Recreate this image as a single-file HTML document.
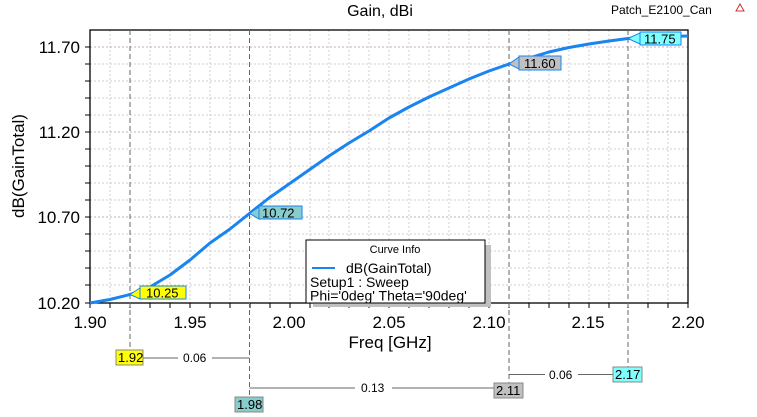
<!DOCTYPE html>
<html><head><meta charset="utf-8"><style>
html,body{margin:0;padding:0;background:#fff;width:757px;height:417px;overflow:hidden}
text{font-family:"Liberation Sans",Arial,sans-serif}
</style></head><body>
<svg width="757" height="417" xmlns="http://www.w3.org/2000/svg">
<g stroke="#cfcfcf" stroke-width="1" stroke-dasharray="2,2">
<path d="M110 30V303M150 30V303M170 30V303M190 30V303M210 30V303M230 30V303M270 30V303M290 30V303M310 30V303M329 30V303M349 30V303M369 30V303M389 30V303M409 30V303M429 30V303M449 30V303M469 30V303M489 30V303M529 30V303M549 30V303M569 30V303M589 30V303M609 30V303M648 30V303M668 30V303"/>
<path d="M90 47H688M90 64H688M90 81H688M90 98H688M90 115H688M90 132H688M90 149H688M90 166H688M90 183H688M90 200H688M90 217H688M90 234H688M90 251H688M90 268H688M90 285H688"/>
</g>
<g stroke="#c8a8c8" stroke-width="1" stroke-dasharray="2,2">
<path d="M90 47H688M90 132H688M90 217H688"/>
</g>
<rect x="90" y="30" width="598" height="273" fill="none" stroke="#000" stroke-width="1.3"/>
<g stroke="#000" stroke-width="1">
<path d="M85 47H90M85 64H90M85 81H90M85 98H90M85 115H90M85 132H90M85 149H90M85 166H90M85 183H90M85 200H90M85 217H90M85 234H90M85 251H90M85 268H90M85 285H90M85 303H90"/>
<path d="M90 303v5M110 303v5M130 303v5M150 303v5M170 303v5M190 303v5M210 303v5M230 303v5M250 303v5M270 303v5M290 303v5M310 303v5M329 303v5M349 303v5M369 303v5M389 303v5M409 303v5M429 303v5M449 303v5M469 303v5M489 303v5M509 303v5M529 303v5M549 303v5M569 303v5M589 303v5M609 303v5M628 303v5M648 303v5M668 303v5M688 303v5"/>
</g>
<g stroke="#666" stroke-width="1" stroke-dasharray="5,3" fill="none">
<path d="M130 30V350M249.5 30V397M509 30V383M628 30V367"/>
</g>
<g stroke="#666" stroke-width="1" fill="none">
<path d="M143 358H178M212 358H249.5"/>
<path d="M249.5 388H355M392 388H494"/>
<path d="M509 374.5H545M578 374.5H613"/>
</g>
<rect x="313" y="245" width="178" height="62" fill="#c0c0c0"/>
<polyline points="90,303 110,299.5 130,294.5 150,287 170,275 190,260 210,243 230,229 249.5,213.4 269,198 289,184 309,170 329,156 349,143 369,131 389,118 409,107 429,97 449,88 469,79 489,71 509,64 529,58 549,52 569,47.5 589,44 609,41 628,38.5 648,37 668,36.5 688,36" fill="none" stroke="#1a84f0" stroke-width="3" stroke-linejoin="round"/>
<g font-size="13">
<path d="M130 294.5 L140 288 V299 Z" fill="#ffff00" stroke="#1a84f0"/>
<rect x="140" y="286" width="46" height="13" fill="#ffff00" stroke="#1a84f0"/>
<text x="146" y="297.5">10.25</text>
<path d="M249.5 213.4 L259 207 V219 Z" fill="#88cccc" stroke="#1a84f0"/>
<rect x="259" y="206" width="43" height="13" fill="#88cccc" stroke="#1a84f0"/>
<text x="262" y="217.5">10.72</text>
<path d="M509 64 L519 57 V69 Z" fill="#c0c0c0" stroke="#1a84f0"/>
<rect x="519" y="56" width="42" height="14" fill="#c0c0c0" stroke="#1a84f0"/>
<text x="524" y="68">11.60</text>
<path d="M628 38.5 L640 33 V44 Z" fill="#80ffff" stroke="#1a84f0"/>
<rect x="640" y="32" width="41" height="13" fill="#80ffff" stroke="#1a84f0"/>
<text x="644" y="43.5">11.75</text>
</g>
<g font-size="13">
<rect x="116" y="350" width="27" height="15" fill="#ffff00" stroke="#888"/>
<text x="118" y="362">1.92</text>
<text x="183" y="362" font-size="12">0.06</text>
<rect x="235" y="397" width="28" height="15" fill="#88cccc" stroke="#888"/>
<text x="237" y="409">1.98</text>
<text x="361" y="392" font-size="12">0.13</text>
<rect x="494" y="383" width="29" height="15" fill="#c0c0c0" stroke="#888"/>
<text x="496" y="395">2.11</text>
<text x="549" y="379" font-size="12">0.06</text>
<rect x="613" y="367" width="29" height="15" fill="#80ffff" stroke="#888"/>
<text x="615" y="379">2.17</text>
</g>
<rect x="306" y="240" width="179" height="63" fill="#fff" stroke="#000"/>
<text x="395" y="253" font-size="11" text-anchor="middle">Curve Info</text>
<line x1="312" y1="268" x2="335" y2="268" stroke="#1a84f0" stroke-width="2"/>
<text x="346" y="273" font-size="14">dB(GainTotal)</text>
<text x="310" y="287" font-size="14">Setup1 : Sweep</text>
<text x="310" y="300.5" font-size="14">Phi='0deg' Theta='90deg'</text>
<g font-size="17">
<text x="80" y="53" text-anchor="end">11.70</text>
<text x="80" y="138" text-anchor="end">11.20</text>
<text x="80" y="223" text-anchor="end">10.70</text>
<text x="80" y="309" text-anchor="end">10.20</text>
<text x="90" y="328" text-anchor="middle">1.90</text>
<text x="190" y="328" text-anchor="middle">1.95</text>
<text x="289" y="328" text-anchor="middle">2.00</text>
<text x="389" y="328" text-anchor="middle">2.05</text>
<text x="489" y="328" text-anchor="middle">2.10</text>
<text x="588" y="328" text-anchor="middle">2.15</text>
<text x="688" y="328" text-anchor="middle">2.20</text>
<text x="390" y="348" text-anchor="middle">Freq [GHz]</text>
<text transform="translate(24,166) rotate(-90)" text-anchor="middle">dB(GainTotal)</text>
<text x="380" y="16" text-anchor="middle" font-size="16">Gain, dBi</text>
</g>
<text x="611" y="14" font-size="12">Patch_E2100_Can</text>
<path d="M740 4 L736 11 H744 Z" fill="none" stroke="#d03030"/>
</svg>
</body></html>
